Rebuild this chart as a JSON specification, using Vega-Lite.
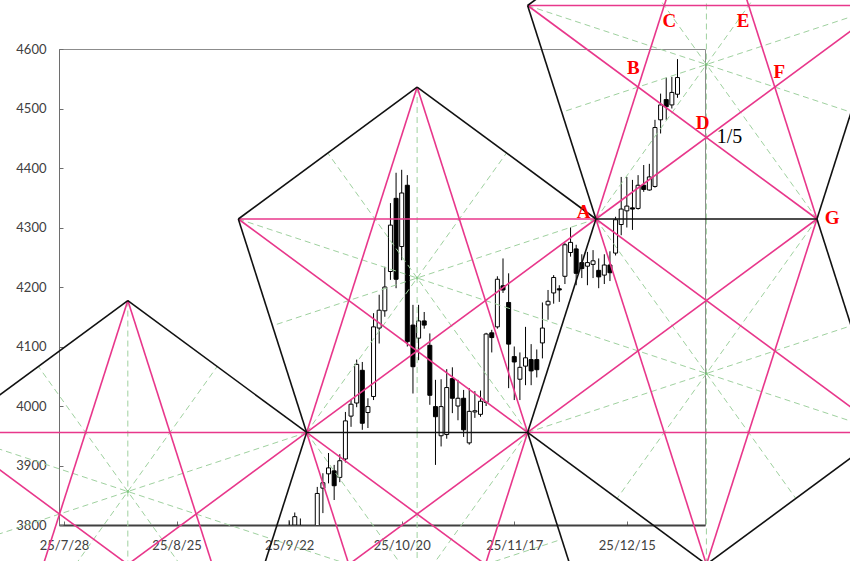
{
  "$schema": "https://vega.github.io/schema/vega-lite/v6.json",
  "width": 646,
  "height": 476,
  "padding": {"left": 59, "top": 49, "right": 145, "bottom": 36},
  "autosize": {"type": "none"},
  "background": "white",
  "config": {
    "view": {"stroke": "#8c8c8c", "strokeWidth": 1},
    "axis": {"grid": false, "title": null, "labelFont": "Lato", "labelFontSize": 13, "labelColor": "#404040", "domainColor": "#6e6e6e", "tickColor": "#6e6e6e"}
  },
  "datasets": {
    "candles": [
      {"t": 40, "o": 3790, "h": 3808, "l": 3770, "c": 3795},
      {"t": 41, "o": 3800, "h": 3821, "l": 3785, "c": 3814},
      {"t": 42, "o": 3795, "h": 3811, "l": 3770, "c": 3790},
      {"t": 45, "o": 3790, "h": 3864, "l": 3785, "c": 3853},
      {"t": 46, "o": 3862, "h": 3887, "l": 3820, "c": 3871},
      {"t": 47, "o": 3886, "h": 3921, "l": 3870, "c": 3896},
      {"t": 48, "o": 3891, "h": 3901, "l": 3842, "c": 3866},
      {"t": 49, "o": 3880, "h": 3919, "l": 3872, "c": 3908},
      {"t": 50, "o": 3911, "h": 3990, "l": 3905, "c": 3975},
      {"t": 51, "o": 3983, "h": 4011, "l": 3965, "c": 4003},
      {"t": 52, "o": 4005, "h": 4078, "l": 3998, "c": 4070},
      {"t": 53, "o": 4060, "h": 4074, "l": 3960, "c": 3971},
      {"t": 54, "o": 3989, "h": 4013, "l": 3963, "c": 3999},
      {"t": 55, "o": 4016, "h": 4156, "l": 4010, "c": 4133},
      {"t": 56, "o": 4131, "h": 4187, "l": 4105, "c": 4161},
      {"t": 57, "o": 4160, "h": 4234, "l": 4150, "c": 4200},
      {"t": 58, "o": 4226, "h": 4341, "l": 4212, "c": 4304},
      {"t": 59, "o": 4349, "h": 4392, "l": 4198, "c": 4213},
      {"t": 60, "o": 4268, "h": 4397, "l": 4245, "c": 4358},
      {"t": 61, "o": 4371, "h": 4388, "l": 4100, "c": 4108},
      {"t": 62, "o": 4136, "h": 4170, "l": 4021, "c": 4066},
      {"t": 63, "o": 4114, "h": 4170, "l": 4077, "c": 4143},
      {"t": 64, "o": 4143, "h": 4158, "l": 4130, "c": 4136},
      {"t": 65, "o": 4102, "h": 4122, "l": 4002, "c": 4018},
      {"t": 66, "o": 3999, "h": 4044, "l": 3901, "c": 3982},
      {"t": 67, "o": 3950, "h": 4045, "l": 3932, "c": 3999},
      {"t": 68, "o": 3952, "h": 4062, "l": 3945, "c": 4031},
      {"t": 69, "o": 4046, "h": 4065, "l": 3988, "c": 4013},
      {"t": 70, "o": 4000, "h": 4044, "l": 3976, "c": 4013},
      {"t": 71, "o": 4013, "h": 4027, "l": 3948, "c": 3960},
      {"t": 72, "o": 3938, "h": 4030, "l": 3935, "c": 3991},
      {"t": 73, "o": 3990, "h": 4025, "l": 3980, "c": 3992},
      {"t": 74, "o": 3986, "h": 4026, "l": 3982, "c": 4008},
      {"t": 75, "o": 4006, "h": 4123, "l": 4000, "c": 4121},
      {"t": 76, "o": 4123, "h": 4128, "l": 4090, "c": 4115},
      {"t": 77, "o": 4133, "h": 4218, "l": 4130, "c": 4213},
      {"t": 78, "o": 4202, "h": 4248, "l": 4190, "c": 4195},
      {"t": 79, "o": 4174, "h": 4223, "l": 4030, "c": 4104},
      {"t": 80, "o": 4083, "h": 4100, "l": 4010, "c": 4074},
      {"t": 81, "o": 4045, "h": 4090, "l": 4010, "c": 4065},
      {"t": 82, "o": 4067, "h": 4133, "l": 4035, "c": 4081},
      {"t": 83, "o": 4078, "h": 4104, "l": 4035, "c": 4059},
      {"t": 84, "o": 4078, "h": 4095, "l": 4048, "c": 4061},
      {"t": 85, "o": 4106, "h": 4174, "l": 4080, "c": 4131},
      {"t": 86, "o": 4170, "h": 4195, "l": 4145, "c": 4176},
      {"t": 87, "o": 4190, "h": 4220, "l": 4172, "c": 4216},
      {"t": 88, "o": 4197, "h": 4203, "l": 4175, "c": 4195},
      {"t": 89, "o": 4218, "h": 4274, "l": 4205, "c": 4271},
      {"t": 90, "o": 4258, "h": 4300, "l": 4251, "c": 4275},
      {"t": 91, "o": 4264, "h": 4271, "l": 4203, "c": 4223},
      {"t": 92, "o": 4241, "h": 4255, "l": 4215, "c": 4231},
      {"t": 93, "o": 4235, "h": 4259, "l": 4203, "c": 4241},
      {"t": 94, "o": 4238, "h": 4262, "l": 4215, "c": 4244},
      {"t": 95, "o": 4228, "h": 4248, "l": 4198, "c": 4217},
      {"t": 96, "o": 4220, "h": 4255, "l": 4205, "c": 4237},
      {"t": 97, "o": 4237, "h": 4260, "l": 4210, "c": 4224},
      {"t": 98, "o": 4257, "h": 4318, "l": 4253, "c": 4313},
      {"t": 99, "o": 4305, "h": 4385, "l": 4287, "c": 4331},
      {"t": 100, "o": 4328, "h": 4385, "l": 4300, "c": 4336},
      {"t": 101, "o": 4333, "h": 4380, "l": 4296, "c": 4331},
      {"t": 102, "o": 4332, "h": 4388, "l": 4330, "c": 4371},
      {"t": 103, "o": 4371, "h": 4405, "l": 4360, "c": 4364},
      {"t": 104, "o": 4363, "h": 4407, "l": 4362, "c": 4385},
      {"t": 105, "o": 4369, "h": 4481, "l": 4367, "c": 4468},
      {"t": 106, "o": 4481, "h": 4525, "l": 4458, "c": 4506},
      {"t": 107, "o": 4515, "h": 4552, "l": 4481, "c": 4503},
      {"t": 108, "o": 4506, "h": 4553, "l": 4500, "c": 4527},
      {"t": 109, "o": 4524, "h": 4583, "l": 4518, "c": 4552}
    ],
    "segs": [
      {"kind": "a", "t1": 11.34, "p1": 4177.2, "t2": 11.34, "p2": 3596.6},
      {"kind": "a", "t1": -20.43, "p1": 3955.5, "t2": 37.04, "p2": 3776.0},
      {"kind": "a", "t1": -8.30, "p1": 3596.6, "t2": 27.22, "p2": 4066.4},
      {"kind": "a", "t1": 30.97, "p1": 3596.6, "t2": -4.55, "p2": 4066.4},
      {"kind": "a", "t1": 43.11, "p1": 3955.5, "t2": -14.37, "p2": 3776.0},
      {"kind": "a", "t1": 62.74, "p1": 4536.1, "t2": 62.74, "p2": 3955.5},
      {"kind": "a", "t1": 30.97, "p1": 4314.3, "t2": 88.44, "p2": 4134.9},
      {"kind": "a", "t1": 43.11, "p1": 3955.5, "t2": 78.62, "p2": 4425.2},
      {"kind": "a", "t1": 82.37, "p1": 3955.5, "t2": 46.86, "p2": 4425.2},
      {"kind": "a", "t1": 94.51, "p1": 4314.3, "t2": 37.04, "p2": 4134.9},
      {"kind": "a", "t1": 114.14, "p1": 4894.9, "t2": 114.14, "p2": 4314.3},
      {"kind": "a", "t1": 82.37, "p1": 4673.1, "t2": 139.85, "p2": 4493.7},
      {"kind": "a", "t1": 94.51, "p1": 4314.3, "t2": 130.03, "p2": 4784.0},
      {"kind": "a", "t1": 133.78, "p1": 4314.3, "t2": 98.26, "p2": 4784.0},
      {"kind": "a", "t1": 145.91, "p1": 4673.1, "t2": 88.44, "p2": 4493.7},
      {"kind": "a", "t1": 114.14, "p1": 3733.7, "t2": 114.14, "p2": 4314.3},
      {"kind": "a", "t1": 145.91, "p1": 3955.5, "t2": 88.44, "p2": 4134.9},
      {"kind": "a", "t1": 133.78, "p1": 4314.3, "t2": 98.26, "p2": 3844.5},
      {"kind": "a", "t1": 94.51, "p1": 4314.3, "t2": 130.03, "p2": 3844.5},
      {"kind": "a", "t1": 82.37, "p1": 3955.5, "t2": 139.85, "p2": 4134.9},
      {"kind": "a", "t1": 62.74, "p1": 3374.8, "t2": 62.74, "p2": 3955.5},
      {"kind": "a", "t1": 94.51, "p1": 3596.6, "t2": 37.04, "p2": 3776.0},
      {"kind": "a", "t1": 82.37, "p1": 3955.5, "t2": 46.86, "p2": 3485.7},
      {"kind": "a", "t1": 43.11, "p1": 3955.5, "t2": 78.62, "p2": 3485.7},
      {"kind": "a", "t1": 30.97, "p1": 3596.6, "t2": 88.44, "p2": 3776.0},
      {"kind": "s", "t1": 11.34, "p1": 4177.2, "t2": -8.30, "p2": 3596.6},
      {"kind": "s", "t1": 11.34, "p1": 4177.2, "t2": 30.97, "p2": 3596.6},
      {"kind": "s", "t1": -20.43, "p1": 3955.5, "t2": 43.11, "p2": 3955.5},
      {"kind": "s", "t1": -20.43, "p1": 3955.5, "t2": 30.97, "p2": 3596.6},
      {"kind": "s", "t1": 43.11, "p1": 3955.5, "t2": -8.30, "p2": 3596.6},
      {"kind": "s", "t1": 62.74, "p1": 4536.1, "t2": 43.11, "p2": 3955.5},
      {"kind": "s", "t1": 62.74, "p1": 4536.1, "t2": 82.37, "p2": 3955.5},
      {"kind": "s", "t1": 30.97, "p1": 4314.3, "t2": 94.51, "p2": 4314.3},
      {"kind": "s", "t1": 30.97, "p1": 4314.3, "t2": 82.37, "p2": 3955.5},
      {"kind": "s", "t1": 94.51, "p1": 4314.3, "t2": 43.11, "p2": 3955.5},
      {"kind": "s", "t1": 114.14, "p1": 4894.9, "t2": 94.51, "p2": 4314.3},
      {"kind": "s", "t1": 114.14, "p1": 4894.9, "t2": 133.78, "p2": 4314.3},
      {"kind": "s", "t1": 82.37, "p1": 4673.1, "t2": 145.91, "p2": 4673.1},
      {"kind": "s", "t1": 82.37, "p1": 4673.1, "t2": 133.78, "p2": 4314.3},
      {"kind": "s", "t1": 145.91, "p1": 4673.1, "t2": 94.51, "p2": 4314.3},
      {"kind": "s", "t1": 94.51, "p1": 4314.3, "t2": 145.91, "p2": 3955.5},
      {"kind": "s", "t1": 94.51, "p1": 4314.3, "t2": 114.14, "p2": 3733.7},
      {"kind": "s", "t1": 133.78, "p1": 4314.3, "t2": 82.37, "p2": 3955.5},
      {"kind": "s", "t1": 133.78, "p1": 4314.3, "t2": 114.14, "p2": 3733.7},
      {"kind": "s", "t1": 82.37, "p1": 3955.5, "t2": 145.91, "p2": 3955.5},
      {"kind": "s", "t1": 43.11, "p1": 3955.5, "t2": 94.51, "p2": 3596.6},
      {"kind": "s", "t1": 43.11, "p1": 3955.5, "t2": 62.74, "p2": 3374.8},
      {"kind": "s", "t1": 82.37, "p1": 3955.5, "t2": 30.97, "p2": 3596.6},
      {"kind": "s", "t1": 82.37, "p1": 3955.5, "t2": 62.74, "p2": 3374.8},
      {"kind": "s", "t1": 30.97, "p1": 3596.6, "t2": 94.51, "p2": 3596.6},
      {"kind": "e", "t1": 11.34, "p1": 4177.2, "t2": -20.43, "p2": 3955.5},
      {"kind": "e", "t1": 11.34, "p1": 4177.2, "t2": 43.11, "p2": 3955.5},
      {"kind": "e", "t1": 43.11, "p1": 3955.5, "t2": 30.97, "p2": 3596.6},
      {"kind": "e", "t1": 30.97, "p1": 3596.6, "t2": -8.30, "p2": 3596.6},
      {"kind": "e", "t1": -8.30, "p1": 3596.6, "t2": -20.43, "p2": 3955.5},
      {"kind": "e", "t1": 62.74, "p1": 4536.1, "t2": 30.97, "p2": 4314.3},
      {"kind": "e", "t1": 62.74, "p1": 4536.1, "t2": 94.51, "p2": 4314.3},
      {"kind": "e", "t1": 94.51, "p1": 4314.3, "t2": 82.37, "p2": 3955.5},
      {"kind": "e", "t1": 82.37, "p1": 3955.5, "t2": 43.11, "p2": 3955.5},
      {"kind": "e", "t1": 43.11, "p1": 3955.5, "t2": 30.97, "p2": 4314.3},
      {"kind": "e", "t1": 114.14, "p1": 4894.9, "t2": 82.37, "p2": 4673.1},
      {"kind": "e", "t1": 114.14, "p1": 4894.9, "t2": 145.91, "p2": 4673.1},
      {"kind": "e", "t1": 145.91, "p1": 4673.1, "t2": 133.78, "p2": 4314.3},
      {"kind": "e", "t1": 133.78, "p1": 4314.3, "t2": 94.51, "p2": 4314.3},
      {"kind": "e", "t1": 94.51, "p1": 4314.3, "t2": 82.37, "p2": 4673.1},
      {"kind": "e", "t1": 133.78, "p1": 4314.3, "t2": 145.91, "p2": 3955.5},
      {"kind": "e", "t1": 145.91, "p1": 3955.5, "t2": 114.14, "p2": 3733.7},
      {"kind": "e", "t1": 114.14, "p1": 3733.7, "t2": 82.37, "p2": 3955.5},
      {"kind": "e", "t1": 82.37, "p1": 3955.5, "t2": 94.51, "p2": 3596.6},
      {"kind": "e", "t1": 94.51, "p1": 3596.6, "t2": 62.74, "p2": 3374.8},
      {"kind": "e", "t1": 62.74, "p1": 3374.8, "t2": 30.97, "p2": 3596.6}
    ],
    "centers": [
      {"t": 11.34, "p": 3856.3},
      {"t": 62.74, "p": 4215.1},
      {"t": 114.14, "p": 4574.0},
      {"t": 114.14, "p": 4054.6}
    ],
    "labels": [
      {"t": 92.3, "p": 4325.5, "text": "A", "red": true},
      {"t": 101.16, "p": 4567.6, "text": "B", "red": true},
      {"t": 107.57, "p": 4647.6, "text": "C", "red": true},
      {"t": 113.47, "p": 4476.1, "text": "D", "red": true},
      {"t": 120.64, "p": 4647.6, "text": "E", "red": true},
      {"t": 127.11, "p": 4561.9, "text": "F", "red": true},
      {"t": 136.49, "p": 4315.5, "text": "G", "red": true},
      {"t": 118.24, "p": 4452.6, "text": "1/5", "red": false}
    ]
  },
  "layer": [
    {
      "data": {"name": "candles"},
      "mark": {"type": "rule", "color": "black", "strokeWidth": 1, "clip": true},
      "encoding": {
        "x": {"field": "t", "type": "quantitative",
              "scale": {"domain": [0, 113], "nice": false, "zero": false},
              "axis": {"values": [0, 20, 40, 60, 80, 100], "tickSize": -4, "labelPadding": 18, "domainWidth": 2, "domainColor": "#404040",
                       "labelExpr": "datum.value == 0 ? '25/7/28' : datum.value == 20 ? '25/8/25' : datum.value == 40 ? '25/9/22' : datum.value == 60 ? '25/10/20' : datum.value == 80 ? '25/11/17' : '25/12/15'"}},
        "y": {"field": "l", "type": "quantitative",
              "scale": {"domain": [3800, 4600], "nice": false, "zero": false},
              "axis": {"values": [3800, 3900, 4000, 4100, 4200, 4300, 4400, 4500, 4600], "format": "d", "tickSize": -4, "labelPadding": 17}},
        "y2": {"field": "h"}
      }
    },
    {
      "data": {"name": "candles"},
      "mark": {"type": "bar", "width": 4, "stroke": "black", "strokeWidth": 1, "clip": true},
      "encoding": {
        "x": {"field": "t", "type": "quantitative"},
        "y": {"field": "o", "type": "quantitative"},
        "y2": {"field": "c"},
        "fill": {"condition": {"test": "datum.c < datum.o", "value": "black"}, "value": "white"}
      }
    },
    {
      "data": {"name": "segs"},
      "transform": [{"filter": "datum.kind == 'a'"}],
      "mark": {"type": "rule", "color": "#9fd19f", "strokeWidth": 1, "strokeDash": [6, 4], "clip": false},
      "encoding": {
        "x": {"field": "t1", "type": "quantitative"},
        "y": {"field": "p1", "type": "quantitative"},
        "x2": {"field": "t2"},
        "y2": {"field": "p2"}
      }
    },
    {
      "data": {"name": "segs"},
      "transform": [{"filter": "datum.kind == 's'"}],
      "mark": {"type": "rule", "color": "#e8378b", "strokeWidth": 1.6, "clip": false},
      "encoding": {
        "x": {"field": "t1", "type": "quantitative"},
        "y": {"field": "p1", "type": "quantitative"},
        "x2": {"field": "t2"},
        "y2": {"field": "p2"}
      }
    },
    {
      "data": {"name": "segs"},
      "transform": [{"filter": "datum.kind == 'e'"}],
      "mark": {"type": "rule", "color": "#111111", "strokeWidth": 1.6, "clip": false},
      "encoding": {
        "x": {"field": "t1", "type": "quantitative"},
        "y": {"field": "p1", "type": "quantitative"},
        "x2": {"field": "t2"},
        "y2": {"field": "p2"}
      }
    },
    {
      "data": {"name": "centers"},
      "mark": {"type": "point", "filled": true, "color": "#6cc06c", "size": 10, "clip": false},
      "encoding": {
        "x": {"field": "t", "type": "quantitative"},
        "y": {"field": "p", "type": "quantitative"}
      }
    },
    {
      "data": {"name": "labels"},
      "transform": [{"filter": "datum.red"}],
      "mark": {"type": "text", "font": "Liberation Serif", "fontSize": 19, "fontWeight": "bold", "color": "#ff0000", "align": "center", "baseline": "middle", "clip": false},
      "encoding": {
        "x": {"field": "t", "type": "quantitative"},
        "y": {"field": "p", "type": "quantitative"},
        "text": {"field": "text"}
      }
    },
    {
      "data": {"name": "labels"},
      "transform": [{"filter": "!datum.red"}],
      "mark": {"type": "text", "font": "Liberation Serif", "fontSize": 20, "color": "black", "align": "center", "baseline": "middle", "clip": false},
      "encoding": {
        "x": {"field": "t", "type": "quantitative"},
        "y": {"field": "p", "type": "quantitative"},
        "text": {"field": "text"}
      }
    }
  ]
}
